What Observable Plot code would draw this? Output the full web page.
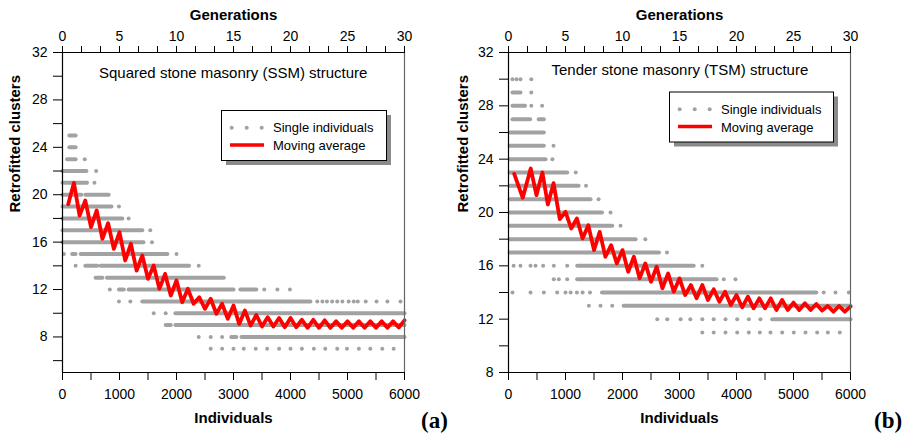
<!DOCTYPE html>
<html><head><meta charset="utf-8">
<script src="https://cdn.jsdelivr.net/npm/d3@7"></script>
<script src="https://cdn.jsdelivr.net/npm/@observablehq/plot@0.6"></script>
<style>
body{margin:0;background:#fff;font-family:"Liberation Sans",Arial,sans-serif;}
#wrap{position:relative;width:911px;height:435px;overflow:hidden;background:#fff;}
#wrap svg.pp{position:absolute;top:0;}
#over{position:absolute;left:0;top:0;pointer-events:none;}
</style></head>
<body><div id="wrap"></div>
<script>
// ---------- data ----------
// dense runs of individuals: [clusters, fromIndividual, toIndividual]
const ssmRuns = [
  [25,120,230],[24,120,230],[23,80,230],[22,0,420],[21,0,430],[20,0,330],[20,400,810],
  [19,0,860],[18,0,1050],[17,0,1400],[16,0,1420],[15,170,230],[15,320,1840],
  [14,400,610],[14,670,2220],[13,580,700],[13,780,2830],[12,990,1075],[12,1160,3000],[12,3120,3400],
  [11,1400,4350],[10,1980,6000],[9,1810,1900],[9,1980,6000],[8,2960,3050],[8,3140,6000]
];
// isolated individuals: [clusters, individual]
const ssmDots = [
  [23,390],[22,590],[21,560],[19,990],[18,1160],[17,1540],[16,1570],[15,25],[15,2000],
  [14,230],[14,2390],[12,830],[12,3540],[12,3770],[12,3990],[11,990],[11,1190],
  [11,4470],[11,4560],[11,4640],[11,4730],[11,4820],[11,4910],[11,5020],[11,5110],[11,5180],
  [11,5320],[11,5510],[11,5700],[11,5930],[10,1600],[10,1810],[8,2390],[8,2600],[8,2800],
  [7,2600],[7,2800],[7,3000],[7,3180],[7,3390],[7,3590],[7,3800],[7,4000],[7,4200],[7,4410],
  [7,4610],[7,4820],[7,4990],[7,5200],[7,5400],[7,5610],[7,5810]
];
// moving average: [individual, clusters]
const ssmAvg = [
  [100,19.2],[200,21.0],[300,18.24],[400,19.51],[500,17.26],[600,18.67],[700,16.28],[800,17.6],[900,15.43],[1000,16.84],
  [1100,14.45],[1200,15.86],[1300,13.6],[1400,14.87],[1500,12.9],[1600,14.03],[1700,12.06],[1800,13.32],[1900,11.5],[2000,12.76],
  [2100,10.93],[2200,12.06],[2300,10.8],[2400,11.35],[2500,10.37],[2600,11.22],[2700,9.95],[2800,10.8],[2900,9.53],[3000,10.65],
  [3100,9.1],[3200,10.23],[3300,8.96],[3400,9.85],[3500,8.88],[3600,9.66],[3700,8.88],[3800,9.6],[3900,8.82],[4000,9.6],
  [4100,8.82],[4200,9.45],[4300,8.77],[4400,9.45],[4500,8.77],[4600,9.4],[4700,8.77],[4800,9.33],[4900,8.77],[5000,9.33],
  [5100,8.77],[5200,9.33],[5300,8.77],[5400,9.33],[5500,8.77],[5600,9.33],[5700,8.77],[5800,9.33],[5900,8.8],[6000,9.4]
];
const tsmRuns = [
  [29,70,210],[28,70,290],[27,70,380],[27,530,620],[26,30,620],[25,20,620],[24,20,650],
  [23,20,1030],[22,20,1230],[21,20,1440],[20,20,1640],[19,20,1820],[18,20,2230],[17,20,2640],
  [16,1205,3250],[15,1205,3650],[14,1640,5400],[13,2020,6000],[12,4626,6000]
];
const tsmDots = [
  [30,70],[30,140],[30,210],[30,400],[29,400],[28,400],[28,590],[25,790],[24,770],[23,1180],
  [22,1360],[21,1580],[20,1790],[19,1965],[18,2400],[17,2780],
  [16,90],[16,210],[16,386],[16,474],[16,608],[16,795],[16,1030],[16,3400],
  [15,795],[15,883],[15,1030],[15,3777],[15,3982],
  [14,70],[14,386],[14,620],[14,854],[14,1000],[14,1090],[14,1200],[14,1300],[14,1430],
  [14,5530],[14,5737],[14,5970],[13,1410],[13,1614],[13,1820],
  [12,2610],[12,2785],[12,3020],[12,3190],[12,3400],[12,3600],[12,3807],[12,4012],[12,4216],[12,4420],
  [11,3400],[11,3600],[11,3807],[11,4012],[11,4216],[11,4409],[11,4596],[11,4801],[11,5005],
  [11,5210],[11,5415],[11,5602],[11,5812]
];
const tsmAvg = [
  [100,22.9],[250,21.1],[390,23.3],[490,21.3],[595,23.0],[690,20.6],[790,22.2],[900,19.5],[1000,20.05],
  [1100,18.8],[1200,19.55],[1300,18.05],[1400,19.05],[1500,17.18],[1600,18.55],[1700,16.68],[1800,17.55],[1900,16.18],[2000,17.18],
  [2100,15.56],[2200,16.68],[2300,15.06],[2400,16.18],[2500,14.81],[2600,15.93],[2700,14.31],[2800,15.43],[2900,14.06],[3000,15.06],
  [3100,13.81],[3200,14.56],[3300,13.56],[3400,14.56],[3500,13.44],[3600,14.24],[3700,13.31],[3800,14.06],[3900,13.06],[4000,13.81],
  [4100,12.89],[4200,13.69],[4300,12.81],[4400,13.56],[4500,12.81],[4600,13.56],[4700,12.69],[4800,13.44],[4900,12.69],[5000,13.24],
  [5100,12.69],[5200,13.19],[5300,12.69],[5400,13.14],[5500,12.64],[5600,12.99],[5700,12.56],[5800,12.99],[5900,12.56],[6000,12.94]
];
// tick labels
const indivTicks = [0,1000,2000,3000,4000,5000,6000];
const indivMinor = [500,1500,2500,3500,4500,5500];
const genTicks = [0,5,10,15,20,25,30];
const genMinor = [5/3,10/3,20/3,25/3,35/3,40/3,50/3,55/3,65/3,70/3,80/3,85/3];
const ssmYTicks = [8,12,16,20,24,28,32], ssmYMinor = [6,10,14,18,22,26,30];
const tsmYTicks = [8,12,16,20,24,28,32], tsmYMinor = [10,14,18,22,26,30];
const gensPer = 200; // individuals per generation

const GRAY = "#a2a2a2";
function panel({runs, dots, avg, yDomain, yTicks, yMinor, width, marginLeft, marginRight, left, labelDx}) {
  const svg = Plot.plot({
    width, height: 435, marginLeft, marginRight, marginTop: 52, marginBottom: 63,
    style: {fontFamily: "'Liberation Sans', Arial, sans-serif", fontSize: "14px", color: "#000", background: "transparent", overflow: "visible"},
    x: {domain: [0, 6000]},
    y: {domain: yDomain},
    marks: [
      Plot.link(runs, {x1: d => d[1], x2: d => d[2], y1: d => d[0], y2: d => d[0], stroke: GRAY, strokeWidth: 4, strokeLinecap: "round"}),
      Plot.dot(dots, {x: d => d[1], y: d => d[0], r: 2, fill: GRAY, stroke: null}),
      Plot.line(avg, {x: d => d[0], y: d => d[1], stroke: "#ff0000", strokeWidth: 3.8}),
      Plot.ruleY([yDomain[0]], {stroke: "#000", strokeWidth: 1.2}),
      Plot.ruleY([32], {stroke: "#000", strokeWidth: 1.2}),
      Plot.ruleX([0], {stroke: "#000", strokeWidth: 1.2}),
      Plot.ruleX([6000], {stroke: "#666", strokeWidth: 1.2}),
      Plot.axisX(indivTicks, {anchor: "bottom", tickSize: 8, tickPadding: 9, tickFormat: d => String(d), label: null, fontSize: 14}),
      Plot.axisX(indivMinor, {anchor: "bottom", tickSize: 8, tickFormat: () => "", label: null}),
      Plot.axisX(genTicks.map(g => g * gensPer), {anchor: "top", tickSize: 7, tickPadding: 5, tickFormat: d => String(d / gensPer), label: null, fontSize: 14}),
      Plot.axisX(genMinor.map(g => g * gensPer), {anchor: "top", tickSize: 7, tickFormat: () => "", label: null}),
      Plot.axisY(yTicks, {anchor: "left", tickSize: 9, tickPadding: 6, tickFormat: d => String(d), label: null, fontSize: 14}),
      Plot.axisY(yMinor, {anchor: "left", tickSize: 9, tickFormat: () => "", label: null}),
      Plot.text(["Individuals"], {frameAnchor: "bottom", lineAnchor: "middle", dy: 46, fontWeight: "bold", fontSize: 15}),
      Plot.text(["Generations"], {frameAnchor: "top", lineAnchor: "middle", dy: -37, fontWeight: "bold", fontSize: 15}),
      Plot.text(["Retrofitted clusters"], {frameAnchor: "left", lineAnchor: "middle", dx: labelDx, rotate: -90, fontWeight: "bold", fontSize: 15})
    ]
  });
  svg.classList.add("pp");
  svg.style.left = left + "px";
  document.getElementById("wrap").appendChild(svg);
}
panel({runs: ssmRuns, dots: ssmDots, avg: ssmAvg, yDomain: [5, 32], yTicks: ssmYTicks, yMinor: ssmYMinor, width: 455, marginLeft: 62, marginRight: 51, left: 0, labelDx: -47});
panel({runs: tsmRuns, dots: tsmDots, avg: tsmAvg, yDomain: [8, 32], yTicks: tsmYTicks, yMinor: tsmYMinor, width: 456, marginLeft: 53, marginRight: 61, left: 455, labelDx: -45});

// ---------- overlay: titles, legends, panel tags ----------
const ns = "http://www.w3.org/2000/svg";
const over = document.createElementNS(ns, "svg");
over.setAttribute("id", "over"); over.setAttribute("width", 911); over.setAttribute("height", 435);
document.getElementById("wrap").appendChild(over);
function el(tag, attrs, text) {
  const e = document.createElementNS(ns, tag);
  for (const k in attrs) e.setAttribute(k, attrs[k]);
  if (text) e.textContent = text;
  over.appendChild(e); return e;
}
const sans = "'Liberation Sans', Arial, sans-serif";
el("text", {x: 99, y: 77.5, "font-family": sans, "font-size": 15}, "Squared stone masonry (SSM) structure");
el("text", {x: 551.5, y: 74.5, "font-family": sans, "font-size": 15}, "Tender stone masonry (TSM) structure");
function legend(x, y, w, h) {
  el("rect", {x: x + 5, y: y + 5, width: w, height: h, fill: "#8a8a8a"});
  el("rect", {x: x + 0.5, y: y + 0.5, width: w, height: h, fill: "#fff", stroke: "#000", "stroke-width": 1});
  for (const dx of [10.7, 25.7, 40.7]) el("circle", {cx: x + dx, cy: y + 17.7, r: 2, fill: GRAY});
  el("line", {x1: x + 9, x2: x + 43, y1: y + 35, y2: y + 35, stroke: "#ff0000", "stroke-width": 3.5});
  el("text", {x: x + 52, y: y + 22, "font-family": sans, "font-size": 13}, "Single individuals");
  el("text", {x: x + 52, y: y + 40, "font-family": sans, "font-size": 13}, "Moving average");
}
legend(221, 110, 165, 50);
legend(669, 91.5, 164, 50);
const serif = "'Liberation Serif', 'Times New Roman', serif";
el("text", {x: 421, y: 428, "font-family": serif, "font-size": 23, "font-weight": "bold"}, "(a)");
el("text", {x: 874, y: 428, "font-family": serif, "font-size": 23, "font-weight": "bold"}, "(b)");
</script></body></html>
